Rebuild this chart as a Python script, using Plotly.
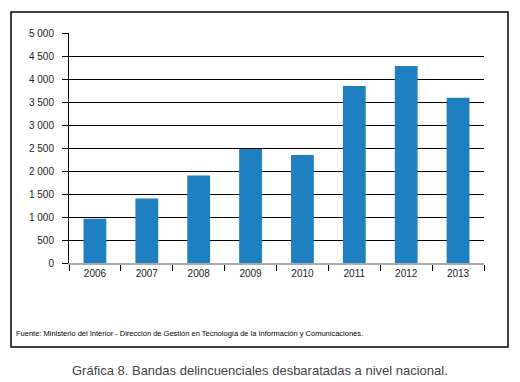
import plotly.graph_objects as go

years = ["2006", "2007", "2008", "2009", "2010", "2011", "2012", "2013"]
bandas = [960, 1400, 1900, 2480, 2350, 3850, 4280, 3590]

# page has an 8px body margin; work in page pixel coords and subtract it
OFF = 8
W, H = 520 - OFF, 382 - OFF
L, R, T, B = 69 - OFF, W - (484 - OFF), 33 - OFF, H - (263 - OFF)
pw, ph = W - L - R, H - T - B

def px(x):
    return (x - OFF - L) / pw

def py(y):
    return (H - B - (y - OFF)) / ph

fig = go.Figure(go.Bar(x=years, y=bandas, marker_color="#1f80c1", marker_line_width=0))

font = "Liberation Sans, Arial, sans-serif"
fig.update_layout(
    width=W, height=H,
    margin=dict(l=L, r=R, t=T, b=B),
    plot_bgcolor="white", paper_bgcolor="white",
    separators=". ",
    bargap=0.56,
    showlegend=False,
    font=dict(family=font, size=10, color="#222"),
    xaxis=dict(
        type="category", showline=True, linecolor="#aaaaaa", linewidth=2,
        ticks="outside", tickson="boundaries", ticklen=6, tickcolor="black", tickwidth=1,
        showgrid=False, tickfont=dict(size=10, color="#222"), fixedrange=True,
    ),
    yaxis=dict(
        range=[0, 5000], dtick=500, tickformat=",d",
        showline=True, linecolor="black", linewidth=1,
        ticks="outside", ticklen=6, tickcolor="black",
        showgrid=True, gridcolor="black", gridwidth=1, zeroline=False,
        ticklabelstandoff=6, tickfont=dict(size=10, color="#222"), fixedrange=True,
    ),
    shapes=[dict(type="rect", xref="paper", yref="paper",
                 x0=px(11), x1=px(508), y0=py(347), y1=py(12),
                 line=dict(color="black", width=1.5), layer="below")],
    annotations=[
        dict(text="Fuente: Ministerio del Interior - Dirección de Gestión en Tecnología de la Información y Comunicaciones.",
             xref="paper", yref="paper", x=px(14), y=py(333), xanchor="left", yanchor="middle",
             showarrow=False, font=dict(size=7.5, color="black", family=font)),
        dict(text="Gráfica 8. Bandas delincuenciales desbaratadas a nivel nacional.",
             xref="paper", yref="paper", x=px(260), y=py(370), xanchor="center", yanchor="middle",
             showarrow=False, font=dict(size=13, color="#444", family=font)),
    ],
)

fig.write_html("out.html")
